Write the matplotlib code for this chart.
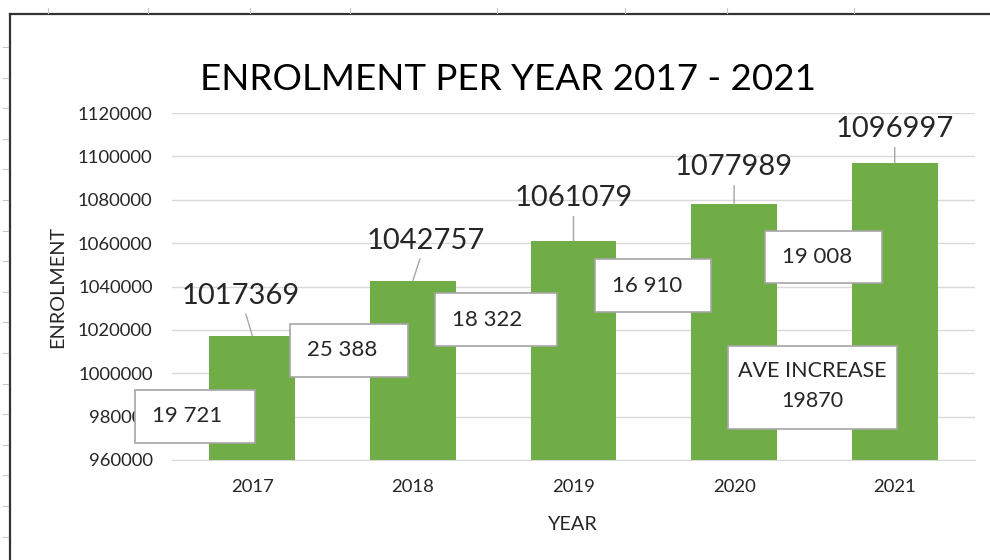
import matplotlib.pyplot as plt
from matplotlib.patches import Rectangle
from matplotlib.lines import Line2D

years = ["2017", "2018", "2019", "2020", "2021"]
enrolment = [1017369, 1042757, 1061079, 1077989, 1096997]
increases = [19721, 25388, 18322, 16910, 19008]
ave_increase = 19870
yticks = [960000, 980000, 1000000, 1020000, 1040000, 1060000, 1080000, 1100000, 1120000]

W, H = 990, 560
GREEN = "#70AD47"
GRID = "#d9d9d9"
TXT = "#262626"

plt.rcParams['font.family'] = ['Lato', 'DejaVu Sans']

fig = plt.figure(figsize=(W / 100, H / 100), dpi=100)


def fx(px):
    return px / W


def fy(py):
    return 1 - py / H


# spreadsheet frame behind the chart
fig.add_artist(Line2D([fx(10), fx(990)], [fy(14), fy(14)], color="#333333", lw=1.6))
fig.add_artist(Line2D([fx(10), fx(10)], [fy(14), fy(560)], color="#333333", lw=1.6))
for x in [48, 148, 250, 350, 497, 625, 727, 854]:
    fig.add_artist(Line2D([fx(x), fx(x)], [fy(8), fy(13)], color="#c8c8c8", lw=0.8))
y = 47
while y < H:
    fig.add_artist(Line2D([fx(3), fx(8)], [fy(y), fy(y)], color="#c8c8c8", lw=0.8))
    y += 30.6

ax = fig.add_axes([fx(172), fy(460), fx(975) - fx(172), fy(113) - fy(460)])
x = range(len(years))
ax.bar(x, enrolment, width=0.535, color=GREEN, zorder=2)
ax.set_xlim(-0.5, len(years) - 0.5)
ax.set_ylim(yticks[0], yticks[-1])
ax.set_yticks(yticks)
ax.set_yticklabels([str(v) for v in yticks], fontsize=13.3, color=TXT)
ax.set_xticks(list(x))
ax.set_xticklabels(years, fontsize=13.3, color=TXT)
ax.tick_params(axis="both", length=0)
ax.tick_params(axis="y", pad=14)
ax.tick_params(axis="x", pad=14)
ax.grid(axis="y", color=GRID, lw=1, zorder=0)
for s in ["top", "right", "left"]:
    ax.spines[s].set_visible(False)
ax.spines["bottom"].set_color(GRID)
ax.set_axisbelow(True)

# data labels with leader lines
label_dx = [-12, 13, 0, 0, 0]
label_dy = [40, 40, 43, 37, 34]
for i, v in enumerate(enrolment):
    ax.annotate(str(v), xy=(i, v), xytext=(label_dx[i], label_dy[i]),
                textcoords="offset pixels", ha="center", va="center",
                fontsize=21, color=TXT, zorder=5,
                arrowprops=dict(arrowstyle="-", color="#a6a6a6", lw=1.0,
                                shrinkA=2, shrinkB=0))

fig.text(fx(508), fy(80), "ENROLMENT PER YEAR 2017 - 2021", ha="center", va="center",
         fontsize=26.5, color="black")
fig.text(fx(58), fy(287), "ENROLMENT", rotation=90, ha="center", va="center",
         fontsize=14.3, color=TXT)
fig.text(fx(573), fy(524), "YEAR", ha="center", va="center", fontsize=14.3, color=TXT)

# increase boxes
boxes = [(135, 390, 255, 443), (290, 324, 408, 377), (435, 293, 557, 346),
         (595, 259, 711, 312), (765, 231, 882, 283)]
for (x0, y0, x1, y1), inc in zip(boxes, increases):
    fig.add_artist(Rectangle((fx(x0), fy(y1)), fx(x1) - fx(x0), fy(y0) - fy(y1),
                             transform=fig.transFigure, facecolor="white",
                             edgecolor="#a6a6a6", lw=1.2, zorder=4))
    fig.text(fx(x0 + 17), fy((y0 + y1) / 2), f"{inc:,}".replace(",", " "),
             ha="left", va="center", fontsize=16, color=TXT, zorder=6)

x0, y0, x1, y1 = 728, 346, 897, 429
fig.add_artist(Rectangle((fx(x0), fy(y1)), fx(x1) - fx(x0), fy(y0) - fy(y1),
                         transform=fig.transFigure, facecolor="white",
                         edgecolor="#a6a6a6", lw=1.2, zorder=4))
fig.text(fx(812), fy(371), "AVE INCREASE", ha="center", va="center",
         fontsize=15.5, color=TXT, zorder=6)
fig.text(fx(812), fy(401), str(ave_increase), ha="center", va="center",
         fontsize=15.5, color=TXT, zorder=6)

fig.savefig("out.png", dpi=100)
